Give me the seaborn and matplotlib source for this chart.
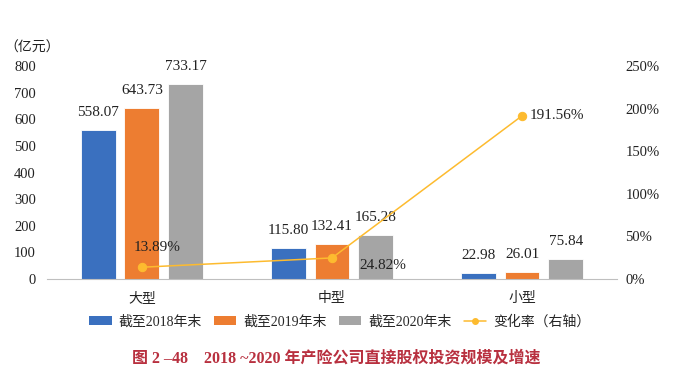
import pandas as pd
import numpy as np
import matplotlib
matplotlib.use('Agg')
import matplotlib.pyplot as plt
import seaborn as sns
from matplotlib.patches import Patch
from matplotlib.lines import Line2D

# --- Data ---
categories = ['大型', '中型', '小型']
series_names = ['截至2018年末', '截至2019年末', '截至2020年末']
values_2018 = [558.07, 115.80, 22.98]
values_2019 = [643.73, 132.41, 26.01]
values_2020 = [733.17, 165.28, 75.84]
change_rate = [13.89, 24.82, 191.56]
line_name = '变化率（右轴）'

bar_colors = ['#3A70BF', '#ED7D31', '#A5A5A5']
line_color = '#FDBB2F'
title_color = '#B8303F'
FONT = ['Liberation Serif', 'Noto Sans CJK SC']

sns.set_style('white')
plt.rcParams['font.family'] = FONT

df = pd.DataFrame({
    'cat': categories * 3,
    'series': [s for s in series_names for _ in categories],
    'value': values_2018 + values_2019 + values_2020,
})

fig = plt.figure(figsize=(6.73, 3.86), dpi=100)
ax = fig.add_axes([0.0698, 0.277, 0.8470, 0.552])

sns.barplot(data=df, x='cat', y='value', hue='series', order=categories,
            hue_order=series_names, palette=bar_colors, saturation=1,
            width=0.69, gap=0.2, edgecolor='white', linewidth=0.6,
            legend=False, ax=ax)

for cont in ax.containers:
    ax.bar_label(cont, labels=[f'{v:.2f}' for v in cont.datavalues],
                 padding=8, fontsize=11, color='#222222')

ax.set_ylim(0, 800)
ax.set_yticks(np.arange(0, 801, 100))
ax.set_xlim(-0.5, 2.5)
ax.set_xlabel('')
ax.set_ylabel('')
ax.tick_params(axis='y', length=0, labelsize=10.5, pad=8, colors='#222222')
ax.tick_params(axis='x', which='major', length=0, labelsize=10, pad=9, colors='#222222')
ax.set_xticks([-0.5, 0.5, 1.5, 2.5], minor=True)
ax.tick_params(axis='x', which='minor', length=5, color='#BFBFBF', width=0.8)
for s in ['top', 'right', 'left']:
    ax.spines[s].set_visible(False)
ax.spines['bottom'].set_color('#BFBFBF')
ax.spines['bottom'].set_linewidth(0.8)

ax2 = ax.twinx()
xpos = np.arange(len(categories))
sns.lineplot(x=xpos, y=change_rate, color=line_color, marker='o', markersize=6,
             markeredgecolor=line_color, linewidth=1.1, ax=ax2)
ax2.set_ylim(0, 250)
ax2.set_yticks(np.arange(0, 251, 50))
ax2.set_yticklabels([f'{v}%' for v in range(0, 251, 50)])
ax2.tick_params(axis='y', length=0, labelsize=10.5, pad=6, colors='#222222')
for s in ax2.spines.values():
    s.set_visible(False)

offsets = [(15, 20), (51, -8), (35, 0)]
for x, v, off in zip(xpos, change_rate, offsets):
    ax2.annotate(f'{v:.2f}%', (x, v), xytext=off, textcoords='offset pixels',
                 ha='center', va='center', fontsize=11, color='#222222')

fig.text(0.006, 0.865, '（亿元）', fontsize=10, color='#222222', family=FONT)

handles = [Patch(facecolor=c, edgecolor='none') for c in bar_colors]
handles.append(Line2D([0], [0], color=line_color, marker='o', markersize=4, linewidth=1.1))
fig.legend(handles, series_names + [line_name], loc='center', ncol=4,
           bbox_to_anchor=(0.505, 0.166), frameon=False, fontsize=10,
           handlelength=1.6, handleheight=0.6, columnspacing=0.9, handletextpad=0.5)

fig.text(0.5, 0.072, '图 2 –48　2018 ~2020 年产险公司直接股权投资规模及增速',
         ha='center', va='center', fontsize=11.5, fontweight='bold',
         color=title_color, family=FONT)

fig.savefig('out.png', dpi=100)
